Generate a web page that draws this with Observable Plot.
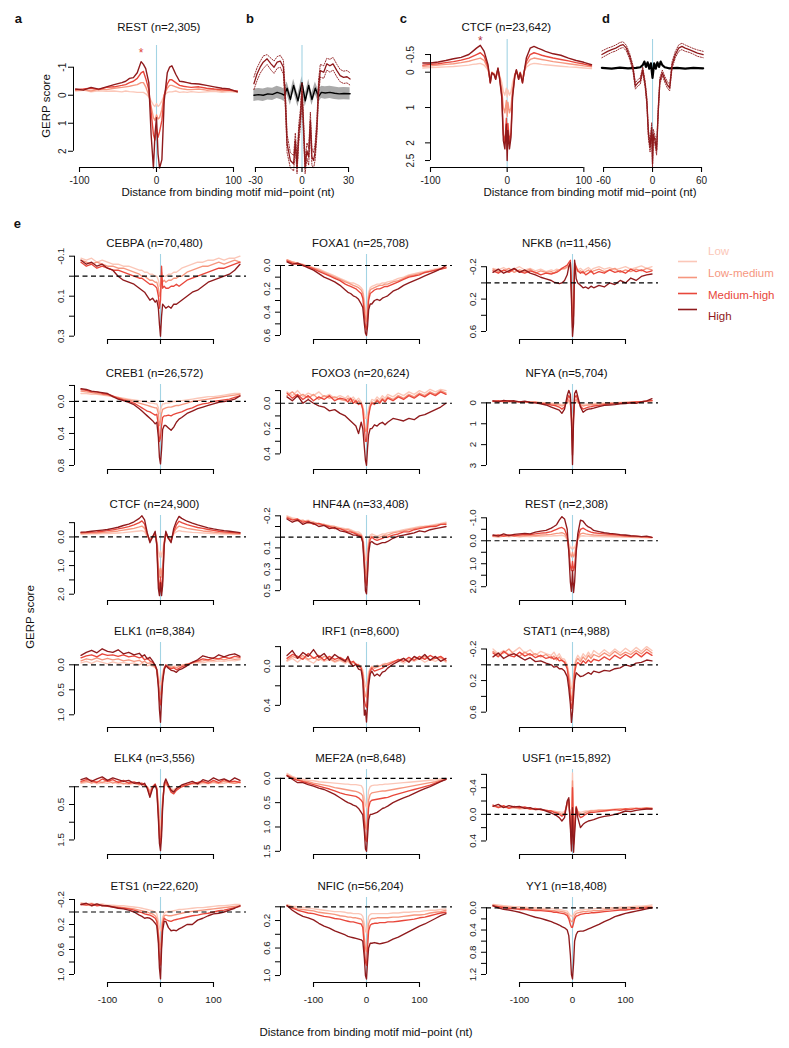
<!DOCTYPE html>
<html><head><meta charset="utf-8">
<script src="https://cdn.jsdelivr.net/npm/d3@7"></script>
<script src="https://cdn.jsdelivr.net/npm/@observablehq/plot@0.6"></script>
<style>
body{margin:0;background:#fff;}
#root{position:relative;width:789px;height:1048px;overflow:hidden;font-family:"Liberation Sans",Arial,Helvetica,sans-serif;color:#111;}
.abs{position:absolute;white-space:nowrap;line-height:1;}
</style></head>
<body><div id="root"></div>
<script>
// ---------------- DATA ----------------
const LEVELS = ["Low","Low-medium","Medium-high","High"];
const COLORS = ["#fbc7b8","#f6977f","#e8473b","#8f1a1c"];

// panel e: distance grid (nt)
const X_E = [-150,-140,-130,-120,-110,-100,-90,-80,-70,-60,-50, -40,-35,-30,-25,-20,-15,-10,-7, -4,-2,0,2,4, 7,10,15,20,25,30,35,40, 50,60,70,80,90,100,110,120,130,140,150];

const CEBPA_H  = [-0.08,-0.06,-0.07,-0.05,-0.06,-0.04,-0.03,0.0,0.02,0.03,0.04, 0.06,0.07,0.08,0.1,0.12,0.11,0.13,0.12, 0.16,0.24,0.3,0.2,0.14, 0.15,0.16,0.15,0.16,0.14,0.14,0.13,0.12, 0.1,0.08,0.07,0.05,0.03,0.02,0.01,0.0,-0.01,-0.03,-0.06];
const CEBPA_MH = [-0.07,-0.05,-0.06,-0.04,-0.05,-0.04,-0.03,-0.03,-0.02,-0.01,0.0, 0.01,0.01,0.02,0.03,0.04,0.04,0.05,0.06, 0.1,0.16,0.12,-0.05,0.06, 0.05,0.06,0.06,0.05,0.05,0.04,0.05,0.04, 0.02,0.01,0.0,-0.01,-0.02,-0.03,-0.04,-0.04,-0.05,-0.06,-0.07];
const CEBPA_LM = [-0.08,-0.07,-0.06,-0.07,-0.06,-0.05,-0.05,-0.04,-0.04,-0.03,-0.02, -0.01,0.0,0.0,0.01,0.02,0.02,0.03,0.03, 0.06,0.1,0.08,0.0,0.03, 0.02,0.03,0.02,0.02,0.01,0.01,0.0,0.0, -0.02,-0.03,-0.04,-0.05,-0.05,-0.06,-0.07,-0.06,-0.07,-0.08,-0.07];
const CEBPA_L  = [-0.09,-0.08,-0.09,-0.07,-0.08,-0.07,-0.06,-0.06,-0.05,-0.05,-0.04, -0.03,-0.03,-0.02,-0.02,-0.01,-0.01,0.0,0.0, 0.02,0.05,0.04,-0.02,0.0, 0.0,0.0,-0.01,-0.01,-0.02,-0.02,-0.03,-0.04, -0.05,-0.06,-0.07,-0.07,-0.08,-0.08,-0.09,-0.08,-0.09,-0.09,-0.1];

const CREB1_H  = [-0.16,-0.15,-0.13,-0.12,-0.11,-0.1,-0.06,-0.03,-0.01,0.01,0.04, 0.09,0.12,0.15,0.18,0.21,0.24,0.28,0.26, 0.45,0.7,0.78,0.6,0.35, 0.3,0.3,0.33,0.36,0.32,0.26,0.22,0.2, 0.15,0.12,0.09,0.07,0.05,0.03,0.01,0.0,-0.01,-0.03,-0.07];
const CREB1_MH = [-0.15,-0.14,-0.12,-0.12,-0.1,-0.09,-0.07,-0.04,-0.02,0.0,0.02, 0.06,0.08,0.1,0.12,0.13,0.15,0.17,0.16, 0.3,0.5,0.45,0.3,0.2, 0.18,0.18,0.17,0.18,0.16,0.15,0.14,0.13, 0.1,0.08,0.05,0.03,0.02,0.0,-0.01,-0.02,-0.03,-0.05,-0.07];
const CREB1_LM = [-0.13,-0.12,-0.11,-0.1,-0.09,-0.08,-0.06,-0.05,-0.03,-0.02,0.0, 0.02,0.03,0.04,0.05,0.06,0.07,0.08,0.08, 0.15,0.3,0.25,0.15,0.1, 0.09,0.08,0.07,0.07,0.06,0.05,0.05,0.04, 0.02,0.0,-0.01,-0.02,-0.03,-0.04,-0.05,-0.06,-0.07,-0.08,-0.09];
const CREB1_L  = [-0.1,-0.1,-0.09,-0.09,-0.08,-0.07,-0.06,-0.05,-0.04,-0.03,-0.02, -0.01,0.0,0.0,0.01,0.02,0.02,0.03,0.03, 0.08,0.15,0.12,0.06,0.03, 0.03,0.02,0.02,0.01,0.0,0.0,-0.01,-0.01, -0.02,-0.03,-0.04,-0.05,-0.06,-0.06,-0.07,-0.08,-0.09,-0.1,-0.1];

const CTCF_H  = [-0.17,-0.18,-0.2,-0.22,-0.24,-0.26,-0.3,-0.34,-0.4,-0.45,-0.53, -0.65,-0.74,-0.6,-0.15,0.2,0.0,-0.2,0.3, 1.8,2.05,1.6,2.05,1.7, 0.3,-0.2,0.05,0.2,-0.3,-0.55,-0.72,-0.65, -0.55,-0.48,-0.42,-0.37,-0.32,-0.28,-0.25,-0.22,-0.2,-0.18,-0.15];
const CTCF_MH = [-0.15,-0.16,-0.17,-0.18,-0.2,-0.22,-0.25,-0.28,-0.32,-0.36,-0.42, -0.5,-0.56,-0.45,-0.1,0.15,0.0,-0.15,0.25, 1.5,1.9,1.4,1.9,1.5, 0.25,-0.15,0.05,0.15,-0.2,-0.42,-0.55,-0.5, -0.43,-0.38,-0.33,-0.3,-0.26,-0.23,-0.2,-0.18,-0.16,-0.15,-0.13];
const CTCF_LM = [-0.12,-0.13,-0.14,-0.14,-0.16,-0.17,-0.19,-0.21,-0.24,-0.27,-0.3, -0.35,-0.38,-0.3,-0.05,0.1,0.0,-0.1,0.2, 1.0,1.4,1.1,1.4,1.0, 0.2,-0.1,0.05,0.1,-0.15,-0.3,-0.38,-0.35, -0.3,-0.27,-0.24,-0.21,-0.19,-0.17,-0.15,-0.14,-0.13,-0.12,-0.11];
const CTCF_L  = [-0.1,-0.1,-0.11,-0.11,-0.12,-0.12,-0.13,-0.14,-0.15,-0.17,-0.19, -0.21,-0.22,-0.18,0.0,0.05,0.0,-0.05,0.1, 0.5,0.7,0.5,0.7,0.5, 0.1,-0.05,0.0,0.05,-0.1,-0.18,-0.22,-0.2, -0.18,-0.16,-0.15,-0.14,-0.13,-0.12,-0.11,-0.1,-0.1,-0.09,-0.09];

const ELK1_H  = [-0.19,-0.25,-0.29,-0.24,-0.32,-0.27,-0.25,-0.3,-0.22,-0.25,-0.2, -0.23,-0.17,-0.2,-0.12,-0.15,-0.08,0.01,0.1, 0.45,0.9,1.15,0.7,0.35, 0.1,0.02,0.07,0.11,0.12,0.15,0.1,0.08, 0.02,-0.05,-0.1,-0.18,-0.15,-0.13,-0.2,-0.16,-0.2,-0.22,-0.17];
const ELK1_MH = [-0.14,-0.18,-0.2,-0.16,-0.22,-0.19,-0.2,-0.17,-0.2,-0.16,-0.18, -0.14,-0.16,-0.1,-0.13,-0.08,-0.05,0.02,0.1, 0.4,0.7,0.8,0.55,0.3, 0.08,0.0,0.05,0.08,0.06,0.1,0.07,0.04, 0.0,-0.05,-0.08,-0.12,-0.1,-0.14,-0.12,-0.16,-0.13,-0.17,-0.15];
const ELK1_LM = [-0.08,-0.12,-0.1,-0.14,-0.1,-0.13,-0.1,-0.12,-0.08,-0.1,-0.07, -0.09,-0.05,-0.07,-0.03,-0.04,0.0,0.05,0.1, 0.3,0.55,0.6,0.45,0.25, 0.07,0.02,0.03,0.05,0.04,0.06,0.03,0.01, -0.02,-0.04,-0.07,-0.08,-0.1,-0.09,-0.12,-0.1,-0.13,-0.11,-0.12];
const ELK1_L  = [-0.04,-0.07,-0.03,-0.08,-0.05,-0.02,-0.06,-0.03,-0.05,-0.02,-0.04, 0.0,-0.03,0.0,0.02,0.0,0.03,0.05,0.08, 0.2,0.35,0.4,0.3,0.15, 0.05,0.03,0.02,0.04,0.03,0.02,0.0,0.01, -0.02,-0.03,-0.05,-0.04,-0.07,-0.06,-0.08,-0.07,-0.09,-0.08,-0.1];

const ELK4_H  = [-0.2,-0.25,-0.15,-0.22,-0.28,-0.18,-0.25,-0.2,-0.15,-0.18,-0.1, -0.12,-0.05,-0.1,0.05,0.3,0.05,-0.05,0.1, 0.9,1.6,1.8,1.4,0.6, -0.1,-0.22,-0.05,0.1,0.15,0.05,0.0,-0.05, -0.1,-0.15,-0.08,-0.2,-0.15,-0.25,-0.18,-0.22,-0.15,-0.25,-0.18];
const ELK4_MH = [-0.15,-0.2,-0.18,-0.12,-0.22,-0.15,-0.2,-0.12,-0.18,-0.1,-0.14, -0.08,-0.1,-0.05,0.02,0.25,0.0,-0.08,0.05, 0.8,1.45,1.6,1.2,0.5, -0.05,-0.15,0.0,0.15,0.2,0.1,0.05,0.0, -0.05,-0.1,-0.12,-0.15,-0.1,-0.18,-0.12,-0.2,-0.14,-0.16,-0.12];
const ELK4_LM = [-0.12,-0.16,-0.1,-0.15,-0.12,-0.18,-0.1,-0.15,-0.08,-0.12,-0.1, -0.06,-0.1,-0.04,0.0,0.15,0.0,-0.05,0.05, 0.6,1.2,1.4,1.0,0.4, -0.03,-0.1,0.0,0.08,0.12,0.05,0.02,-0.02, -0.06,-0.1,-0.08,-0.13,-0.1,-0.14,-0.1,-0.15,-0.12,-0.1,-0.14];
const ELK4_L  = [-0.1,-0.12,-0.15,-0.08,-0.12,-0.1,-0.14,-0.08,-0.1,-0.06,-0.1, -0.05,-0.08,-0.03,0.0,0.1,0.0,-0.03,0.03, 0.4,0.9,1.1,0.8,0.3, 0.0,-0.05,0.0,0.05,0.08,0.03,0.0,-0.02, -0.05,-0.08,-0.06,-0.1,-0.08,-0.12,-0.09,-0.1,-0.13,-0.1,-0.12];

const ETS1_H  = [-0.12,-0.14,-0.1,-0.13,-0.1,-0.1,-0.08,-0.06,-0.05,-0.03,0.0, 0.05,0.07,0.1,0.09,0.1,0.13,0.18,0.22, 0.5,0.9,1.07,0.6,0.3, 0.15,0.15,0.25,0.3,0.29,0.3,0.27,0.25, 0.2,0.2,0.13,0.1,0.06,0.03,0.02,0.0,-0.03,-0.06,-0.1];
const ETS1_MH = [-0.12,-0.11,-0.13,-0.1,-0.11,-0.09,-0.08,-0.07,-0.06,-0.05,-0.03, 0.0,0.01,0.03,0.04,0.05,0.07,0.1,0.15, 0.4,0.75,0.85,0.5,0.2, 0.1,0.12,0.14,0.15,0.13,0.12,0.11,0.1, 0.08,0.06,0.05,0.03,0.02,0.0,-0.02,-0.03,-0.05,-0.07,-0.09];
const ETS1_LM = [-0.13,-0.12,-0.1,-0.12,-0.1,-0.1,-0.09,-0.08,-0.07,-0.06,-0.05, -0.03,-0.02,-0.01,0.0,0.02,0.03,0.06,0.1, 0.3,0.5,0.6,0.35,0.15, 0.06,0.05,0.06,0.06,0.05,0.04,0.03,0.02, 0.0,-0.01,-0.02,-0.03,-0.04,-0.05,-0.06,-0.07,-0.08,-0.09,-0.1];
const ETS1_L  = [-0.15,-0.13,-0.14,-0.12,-0.13,-0.11,-0.11,-0.1,-0.1,-0.09,-0.08, -0.07,-0.06,-0.05,-0.04,-0.03,-0.02,0.0,0.03, 0.15,0.25,0.3,0.2,0.08, 0.02,0.0,-0.01,-0.01,-0.02,-0.03,-0.04,-0.04, -0.05,-0.06,-0.07,-0.07,-0.08,-0.09,-0.1,-0.1,-0.11,-0.12,-0.12];

const FOXA1_H  = [-0.03,-0.01,-0.02,0.0,0.02,0.04,0.07,0.1,0.12,0.14,0.17, 0.21,0.23,0.24,0.26,0.27,0.29,0.33,0.36, 0.5,0.58,0.6,0.52,0.38, 0.33,0.33,0.3,0.29,0.3,0.28,0.27,0.26, 0.22,0.2,0.17,0.15,0.13,0.11,0.09,0.07,0.05,0.03,0.0];
const FOXA1_MH = [-0.04,-0.02,-0.01,0.0,0.01,0.03,0.05,0.07,0.09,0.11,0.13, 0.16,0.17,0.18,0.19,0.2,0.22,0.24,0.28, 0.42,0.52,0.55,0.45,0.3, 0.24,0.23,0.21,0.2,0.2,0.19,0.18,0.18, 0.16,0.14,0.12,0.1,0.09,0.08,0.06,0.05,0.04,0.03,0.02];
const FOXA1_LM = [-0.05,-0.03,-0.02,-0.01,0.01,0.02,0.04,0.06,0.08,0.1,0.12, 0.14,0.15,0.16,0.17,0.18,0.19,0.21,0.24, 0.35,0.45,0.48,0.38,0.26, 0.21,0.2,0.19,0.18,0.17,0.17,0.16,0.16, 0.14,0.13,0.11,0.09,0.08,0.07,0.06,0.05,0.04,0.03,0.02];
const FOXA1_L  = [-0.04,-0.03,-0.02,0.0,0.0,0.02,0.03,0.05,0.07,0.09,0.11, 0.13,0.14,0.15,0.15,0.16,0.17,0.19,0.21, 0.3,0.4,0.42,0.33,0.23, 0.19,0.18,0.17,0.16,0.16,0.15,0.15,0.14, 0.13,0.11,0.1,0.08,0.07,0.06,0.05,0.04,0.03,0.02,0.01];

const FOXO3_H  = [-0.05,-0.02,-0.06,0.0,-0.03,0.0,0.02,0.03,0.06,0.05,0.08, 0.1,0.12,0.14,0.16,0.18,0.24,0.15,0.2, 0.35,0.45,0.49,0.35,0.25, 0.2,0.2,0.17,0.18,0.16,0.15,0.17,0.15, 0.12,0.13,0.14,0.12,0.13,0.1,0.09,0.07,0.05,0.03,0.0];
const FOXO3_MH = [-0.08,-0.04,-0.07,-0.03,-0.06,-0.02,-0.05,-0.03,-0.06,-0.02,-0.04, -0.03,-0.01,-0.04,0.0,-0.02,0.01,0.0,0.05, 0.2,0.3,0.3,0.2,0.1, 0.03,0.0,0.01,-0.02,0.0,-0.03,-0.01,-0.04, -0.02,-0.05,-0.03,-0.06,-0.04,-0.07,-0.05,-0.08,-0.06,-0.09,-0.07];
const FOXO3_LM = [-0.06,-0.09,-0.05,-0.07,-0.04,-0.07,-0.03,-0.06,-0.04,-0.05,-0.03, -0.02,-0.04,-0.01,-0.03,0.0,-0.02,0.01,0.04, 0.15,0.22,0.22,0.15,0.08, 0.02,-0.01,0.0,-0.03,-0.01,-0.04,-0.02,-0.05, -0.03,-0.06,-0.04,-0.07,-0.05,-0.08,-0.06,-0.09,-0.07,-0.1,-0.08];
const FOXO3_L  = [-0.09,-0.06,-0.1,-0.05,-0.08,-0.06,-0.09,-0.05,-0.07,-0.04,-0.06, -0.04,-0.06,-0.03,-0.05,-0.02,-0.04,-0.01,0.02, 0.08,0.12,0.12,0.08,0.04, 0.0,-0.03,-0.02,-0.05,-0.03,-0.06,-0.04,-0.07, -0.05,-0.08,-0.06,-0.09,-0.07,-0.1,-0.08,-0.11,-0.09,-0.11,-0.1];

const HNF4A_H  = [-0.17,-0.14,-0.16,-0.12,-0.14,-0.13,-0.1,-0.11,-0.08,-0.09,-0.06, -0.05,-0.04,-0.03,-0.02,-0.02,-0.01,0.0,0.05, 0.3,0.5,0.53,0.35,0.15, 0.05,0.04,0.06,0.07,0.06,0.05,0.05,0.04, 0.01,-0.01,-0.02,-0.03,-0.04,-0.06,-0.05,-0.07,-0.08,-0.09,-0.1];
const HNF4A_MH = [-0.18,-0.16,-0.17,-0.14,-0.15,-0.12,-0.13,-0.11,-0.1,-0.08,-0.08, -0.06,-0.05,-0.05,-0.04,-0.03,-0.02,-0.01,0.04, 0.25,0.42,0.45,0.3,0.1, 0.02,0.0,0.02,0.03,0.02,0.01,0.0,0.0, -0.02,-0.03,-0.05,-0.05,-0.07,-0.08,-0.09,-0.1,-0.1,-0.12,-0.12];
const HNF4A_LM = [-0.19,-0.17,-0.15,-0.16,-0.13,-0.14,-0.12,-0.12,-0.1,-0.1,-0.08, -0.07,-0.07,-0.06,-0.05,-0.04,-0.03,-0.02,0.02, 0.18,0.32,0.35,0.22,0.07, 0.0,-0.01,0.0,0.01,0.0,-0.01,-0.02,-0.02, -0.04,-0.05,-0.06,-0.07,-0.08,-0.09,-0.1,-0.1,-0.11,-0.12,-0.13];
const HNF4A_L  = [-0.2,-0.18,-0.17,-0.15,-0.16,-0.14,-0.13,-0.12,-0.11,-0.1,-0.09, -0.08,-0.08,-0.07,-0.06,-0.05,-0.05,-0.03,0.0, 0.1,0.2,0.22,0.12,0.03, -0.02,-0.03,-0.02,-0.01,-0.02,-0.03,-0.03,-0.04, -0.05,-0.06,-0.07,-0.08,-0.09,-0.1,-0.1,-0.11,-0.12,-0.13,-0.14];

const IRF1_H  = [-0.11,-0.16,-0.08,-0.14,-0.1,-0.17,-0.09,-0.13,-0.06,-0.12,-0.08, -0.05,-0.1,-0.03,0.0,-0.02,0.03,0.04,0.15, 0.5,0.45,0.57,0.4,0.2, 0.08,0.05,0.1,0.08,0.1,0.06,0.05,0.02, -0.02,-0.05,-0.08,-0.04,-0.1,-0.07,-0.12,-0.06,-0.1,-0.05,-0.08];
const IRF1_MH = [-0.08,-0.12,-0.1,-0.07,-0.13,-0.08,-0.11,-0.06,-0.1,-0.07,-0.09, -0.06,-0.08,-0.04,-0.05,-0.02,-0.01,0.02,0.1, 0.35,0.4,0.42,0.3,0.15, 0.05,0.02,0.05,0.04,0.03,0.02,0.0,-0.01, -0.04,-0.07,-0.05,-0.09,-0.06,-0.1,-0.07,-0.11,-0.08,-0.1,-0.06];
const IRF1_LM = [-0.06,-0.1,-0.08,-0.11,-0.07,-0.09,-0.06,-0.1,-0.08,-0.05,-0.07, -0.04,-0.06,-0.03,-0.04,-0.02,0.0,0.02,0.07, 0.25,0.3,0.32,0.22,0.1, 0.03,0.01,0.02,0.01,0.0,-0.01,-0.02,-0.03, -0.05,-0.06,-0.08,-0.05,-0.09,-0.07,-0.1,-0.06,-0.08,-0.09,-0.05];
const IRF1_L  = [-0.05,-0.08,-0.04,-0.09,-0.06,-0.03,-0.08,-0.05,-0.07,-0.04,-0.06, -0.03,-0.05,-0.02,-0.04,-0.01,-0.02,0.0,0.04, 0.15,0.2,0.22,0.15,0.06, 0.02,0.0,0.01,-0.01,0.0,-0.02,-0.03,-0.02, -0.04,-0.06,-0.03,-0.07,-0.05,-0.08,-0.04,-0.07,-0.05,-0.08,-0.04];

const MEF2A_H  = [-0.05,0.02,0.09,0.09,0.13,0.16,0.2,0.23,0.28,0.33,0.4, 0.47,0.5,0.52,0.55,0.57,0.62,0.7,0.75, 1.1,1.45,1.5,1.2,0.85, 0.74,0.74,0.72,0.7,0.66,0.62,0.6,0.57, 0.5,0.45,0.4,0.36,0.31,0.26,0.21,0.17,0.12,0.07,0.02];
const MEF2A_MH = [-0.06,0.0,0.04,0.07,0.1,0.13,0.16,0.19,0.22,0.26,0.3, 0.33,0.34,0.35,0.36,0.37,0.4,0.45,0.5, 0.9,1.25,1.3,1.0,0.6, 0.48,0.45,0.44,0.43,0.42,0.41,0.4,0.39, 0.35,0.32,0.29,0.26,0.23,0.2,0.17,0.14,0.1,0.06,0.02];
const MEF2A_LM = [-0.07,-0.02,0.02,0.05,0.07,0.1,0.12,0.14,0.16,0.19,0.21, 0.23,0.24,0.25,0.26,0.27,0.29,0.32,0.36, 0.7,1.0,1.05,0.8,0.45, 0.33,0.3,0.29,0.28,0.27,0.26,0.26,0.25, 0.23,0.21,0.19,0.17,0.15,0.13,0.11,0.09,0.07,0.04,0.01];
const MEF2A_L  = [-0.1,-0.04,0.0,0.02,0.04,0.05,0.07,0.08,0.09,0.1,0.11, 0.12,0.12,0.13,0.13,0.13,0.14,0.15,0.2, 0.4,0.55,0.6,0.45,0.25, 0.17,0.15,0.14,0.14,0.13,0.13,0.12,0.12, 0.11,0.1,0.09,0.08,0.07,0.06,0.05,0.04,0.03,0.01,0.0];

const NFIC_H  = [-0.02,0.05,0.1,0.14,0.16,0.19,0.24,0.28,0.31,0.35,0.38, 0.41,0.43,0.44,0.45,0.46,0.47,0.48,0.5, 0.75,1.0,1.05,0.8,0.6, 0.53,0.53,0.52,0.53,0.54,0.53,0.52,0.51, 0.47,0.44,0.4,0.36,0.32,0.28,0.25,0.21,0.17,0.13,0.1];
const NFIC_MH = [-0.01,0.02,0.05,0.07,0.09,0.1,0.12,0.14,0.15,0.17,0.18, 0.2,0.21,0.22,0.22,0.23,0.24,0.25,0.3, 0.6,0.8,0.85,0.6,0.35, 0.27,0.25,0.24,0.24,0.23,0.23,0.23,0.22, 0.22,0.21,0.2,0.19,0.18,0.16,0.15,0.13,0.11,0.09,0.08];
const NFIC_LM = [-0.02,0.01,0.03,0.04,0.05,0.06,0.08,0.09,0.1,0.11,0.13, 0.14,0.15,0.15,0.16,0.16,0.17,0.18,0.22, 0.45,0.6,0.65,0.45,0.25, 0.19,0.17,0.17,0.16,0.16,0.16,0.16,0.16, 0.15,0.15,0.14,0.13,0.12,0.12,0.11,0.09,0.08,0.07,0.05];
const NFIC_L  = [-0.03,-0.01,0.0,0.01,0.02,0.03,0.04,0.05,0.06,0.07,0.07, 0.08,0.09,0.09,0.1,0.1,0.1,0.11,0.14, 0.25,0.35,0.38,0.25,0.14, 0.11,0.1,0.1,0.1,0.1,0.1,0.1,0.1, 0.09,0.09,0.08,0.08,0.07,0.07,0.06,0.05,0.05,0.04,0.03];

const NFKB_H  = [-0.13,-0.17,-0.12,-0.15,-0.18,-0.13,-0.16,-0.12,-0.1,-0.07,-0.05, -0.03,-0.01,0.0,0.01,0.0,-0.03,-0.1,-0.2, -0.25,0.2,0.66,0.5,-0.28, -0.05,0.0,0.03,0.06,0.05,0.07,0.04,0.06, 0.03,0.05,0.0,0.02,-0.03,0.0,-0.06,-0.03,-0.08,-0.1,-0.11];
const NFKB_MH = [-0.15,-0.12,-0.16,-0.13,-0.17,-0.14,-0.12,-0.15,-0.13,-0.1,-0.12, -0.11,-0.12,-0.13,-0.15,-0.18,-0.2,-0.22,-0.25, -0.28,0.1,0.55,0.4,-0.25, -0.2,-0.15,-0.12,-0.14,-0.1,-0.12,-0.15,-0.11, -0.14,-0.12,-0.16,-0.13,-0.15,-0.12,-0.17,-0.14,-0.16,-0.13,-0.15];
const NFKB_LM = [-0.17,-0.14,-0.15,-0.18,-0.13,-0.16,-0.14,-0.17,-0.12,-0.15,-0.13, -0.14,-0.12,-0.15,-0.16,-0.17,-0.18,-0.2,-0.22, -0.24,0.05,0.42,0.3,-0.22, -0.18,-0.14,-0.15,-0.12,-0.14,-0.16,-0.13,-0.15, -0.17,-0.14,-0.16,-0.18,-0.13,-0.16,-0.14,-0.17,-0.15,-0.18,-0.16];
const NFKB_L  = [-0.18,-0.16,-0.19,-0.15,-0.17,-0.2,-0.16,-0.18,-0.15,-0.17,-0.14, -0.16,-0.15,-0.17,-0.16,-0.18,-0.17,-0.19,-0.2, -0.22,0.0,0.3,0.2,-0.2, -0.17,-0.16,-0.18,-0.15,-0.17,-0.19,-0.16,-0.18, -0.2,-0.17,-0.19,-0.16,-0.18,-0.2,-0.17,-0.19,-0.21,-0.18,-0.2];

const NFYA_H  = [-0.1,-0.05,-0.12,-0.08,-0.1,-0.05,-0.08,-0.02,0.0,0.05,0.1, 0.2,0.25,0.3,0.35,0.5,0.3,-0.35,-0.6, -0.4,0.8,2.95,0.8,-0.45, -0.6,-0.3,0.2,0.45,0.35,0.3,0.28,0.25, 0.18,0.12,0.1,0.08,0.05,0.03,0.0,0.02,-0.05,-0.1,-0.2];
const NFYA_MH = [-0.08,-0.1,-0.06,-0.1,-0.07,-0.05,-0.06,-0.03,-0.02,0.02,0.05, 0.1,0.12,0.15,0.2,0.3,0.2,-0.15,-0.35, -0.2,0.8,2.5,0.7,-0.25, -0.35,-0.15,0.15,0.3,0.25,0.2,0.18,0.15, 0.12,0.08,0.05,0.04,0.02,0.0,-0.02,-0.04,-0.06,-0.08,-0.12];
const NFYA_LM = [-0.08,-0.06,-0.09,-0.05,-0.07,-0.06,-0.04,-0.05,-0.03,0.0,0.02, 0.05,0.06,0.08,0.1,0.15,0.1,-0.05,-0.15, 0.0,0.7,1.8,0.6,-0.1, -0.15,-0.05,0.08,0.15,0.12,0.1,0.09,0.08, 0.06,0.04,0.02,0.01,0.0,-0.02,-0.03,-0.05,-0.06,-0.08,-0.1];
const NFYA_L  = [-0.06,-0.08,-0.05,-0.07,-0.04,-0.06,-0.05,-0.03,-0.04,-0.02,0.0, 0.02,0.03,0.04,0.05,0.08,0.05,0.0,-0.05, 0.1,0.5,1.0,0.4,0.0, -0.05,0.0,0.04,0.07,0.06,0.05,0.04,0.03, 0.02,0.01,0.0,-0.01,-0.02,-0.03,-0.04,-0.05,-0.06,-0.07,-0.08];

const REST_H  = [-0.25,-0.2,-0.3,-0.22,-0.28,-0.3,-0.32,-0.3,-0.38,-0.42,-0.45, -0.55,-0.62,-0.7,-0.9,-1.05,-0.95,-0.5,0.5, 1.8,2.2,1.3,2.25,1.8, 0.5,-0.3,-0.9,-0.85,-0.7,-0.6,-0.55,-0.45, -0.4,-0.35,-0.32,-0.3,-0.27,-0.25,-0.22,-0.2,-0.18,-0.2,-0.15];
const REST_MH = [-0.22,-0.25,-0.2,-0.26,-0.22,-0.25,-0.28,-0.27,-0.3,-0.33,-0.35, -0.4,-0.45,-0.5,-0.55,-0.58,-0.5,-0.2,0.4, 1.1,1.3,0.9,1.3,1.1, 0.35,-0.15,-0.5,-0.55,-0.48,-0.42,-0.38,-0.35, -0.32,-0.3,-0.28,-0.26,-0.24,-0.22,-0.2,-0.2,-0.18,-0.17,-0.15];
const REST_LM = [-0.2,-0.18,-0.22,-0.2,-0.23,-0.2,-0.22,-0.24,-0.22,-0.25,-0.26, -0.28,-0.3,-0.32,-0.33,-0.35,-0.3,-0.1,0.25, 0.6,0.7,0.5,0.7,0.6, 0.2,-0.08,-0.3,-0.33,-0.3,-0.28,-0.26,-0.25, -0.24,-0.23,-0.22,-0.2,-0.2,-0.19,-0.18,-0.17,-0.16,-0.15,-0.14];
const REST_L  = [-0.18,-0.15,-0.2,-0.17,-0.2,-0.16,-0.19,-0.17,-0.2,-0.18,-0.2, -0.2,-0.22,-0.22,-0.23,-0.24,-0.2,-0.05,0.12, 0.3,0.35,0.25,0.35,0.3, 0.1,-0.05,-0.2,-0.22,-0.2,-0.2,-0.19,-0.18, -0.18,-0.17,-0.17,-0.16,-0.16,-0.15,-0.15,-0.14,-0.14,-0.13,-0.13];

const STAT1_H  = [-0.1,-0.15,-0.08,-0.12,-0.14,-0.1,-0.06,-0.09,-0.04,-0.05,-0.02, 0.0,0.03,0.02,0.05,0.05,0.08,0.15,0.3, 0.5,0.73,0.6,0.4,0.2, 0.1,0.12,0.15,0.14,0.12,0.1,0.12,0.08, 0.1,0.07,0.08,0.05,0.04,0.0,0.02,-0.02,-0.03,-0.06,-0.05];
const STAT1_MH = [-0.15,-0.1,-0.17,-0.12,-0.1,-0.16,-0.11,-0.14,-0.09,-0.12,-0.08, -0.1,-0.07,-0.09,-0.05,-0.06,-0.03,0.05,0.2, 0.4,0.55,0.5,0.3,0.1, 0.0,-0.03,0.0,-0.05,-0.02,-0.06,-0.03,-0.07, -0.05,-0.1,-0.06,-0.12,-0.08,-0.13,-0.09,-0.15,-0.1,-0.16,-0.12];
const STAT1_LM = [-0.17,-0.12,-0.15,-0.2,-0.13,-0.11,-0.16,-0.12,-0.14,-0.1,-0.13, -0.08,-0.11,-0.06,-0.1,-0.05,-0.04,0.02,0.15, 0.3,0.45,0.4,0.25,0.05, -0.05,-0.08,-0.04,-0.1,-0.06,-0.12,-0.08,-0.13, -0.1,-0.15,-0.11,-0.17,-0.12,-0.16,-0.13,-0.18,-0.14,-0.2,-0.15];
const STAT1_L  = [-0.2,-0.14,-0.18,-0.13,-0.17,-0.22,-0.15,-0.19,-0.12,-0.17,-0.14, -0.12,-0.16,-0.1,-0.14,-0.08,-0.07,0.0,0.1, 0.2,0.3,0.28,0.15,0.0, -0.08,-0.12,-0.07,-0.14,-0.1,-0.16,-0.11,-0.18, -0.13,-0.19,-0.14,-0.2,-0.15,-0.21,-0.16,-0.22,-0.17,-0.23,-0.18];

const USF1_H  = [-0.12,-0.15,-0.1,-0.13,-0.11,-0.12,-0.09,-0.1,-0.07,-0.08,-0.05, -0.02,0.0,0.02,0.05,0.1,0.05,-0.2,-0.25, 0.2,0.55,-0.1,0.57,0.3, -0.1,0.05,0.2,0.15,0.12,0.1,0.09,0.08, 0.05,0.03,0.02,0.0,-0.02,-0.05,-0.04,-0.06,-0.07,-0.08,-0.08];
const USF1_MH = [-0.14,-0.1,-0.13,-0.09,-0.12,-0.1,-0.11,-0.08,-0.09,-0.07,-0.06, -0.05,-0.03,-0.02,0.0,0.03,0.0,-0.18,-0.22, 0.15,0.45,-0.4,0.45,0.2, -0.12,-0.02,0.05,0.03,0.0,-0.02,-0.03,-0.03, -0.04,-0.05,-0.06,-0.07,-0.06,-0.08,-0.07,-0.09,-0.08,-0.09,-0.08];
const USF1_LM = [-0.13,-0.11,-0.12,-0.1,-0.1,-0.09,-0.1,-0.08,-0.08,-0.07,-0.06, -0.05,-0.04,-0.03,-0.02,0.0,-0.02,-0.15,-0.18, 0.1,0.35,-0.5,0.35,0.12, -0.1,-0.04,0.0,-0.01,-0.03,-0.04,-0.05,-0.05, -0.06,-0.06,-0.07,-0.07,-0.08,-0.08,-0.09,-0.09,-0.09,-0.1,-0.09];
const USF1_L  = [-0.12,-0.1,-0.11,-0.09,-0.1,-0.08,-0.09,-0.08,-0.07,-0.07,-0.06, -0.05,-0.05,-0.04,-0.04,-0.03,-0.04,-0.12,-0.15, 0.05,0.2,-0.62,0.2,0.05, -0.08,-0.05,-0.03,-0.04,-0.05,-0.05,-0.06,-0.06, -0.07,-0.07,-0.07,-0.08,-0.08,-0.08,-0.09,-0.09,-0.09,-0.1,-0.1];

const YY1_H  = [-0.04,0.0,0.03,0.04,0.06,0.08,0.11,0.14,0.17,0.19,0.22, 0.25,0.27,0.29,0.31,0.34,0.36,0.4,0.5, 0.85,1.2,1.28,1.0,0.6, 0.48,0.43,0.42,0.42,0.4,0.38,0.36,0.34, 0.3,0.25,0.21,0.16,0.13,0.1,0.08,0.06,0.04,0.02,0.0];
const YY1_MH = [-0.03,-0.02,0.0,0.01,0.02,0.03,0.03,0.04,0.05,0.05,0.06, 0.07,0.08,0.08,0.09,0.1,0.11,0.14,0.2, 0.3,0.35,0.35,0.28,0.2, 0.15,0.14,0.12,0.11,0.1,0.1,0.09,0.09, 0.08,0.07,0.06,0.05,0.04,0.04,0.03,0.02,0.01,0.0,0.0];
const YY1_LM = [-0.05,-0.03,-0.02,-0.01,0.0,0.01,0.01,0.02,0.03,0.03,0.04, 0.05,0.05,0.06,0.06,0.07,0.08,0.1,0.15, 0.22,0.25,0.25,0.2,0.14, 0.1,0.09,0.08,0.07,0.07,0.06,0.06,0.05, 0.05,0.04,0.03,0.02,0.02,0.01,0.0,0.0,-0.01,-0.02,-0.02];
const YY1_L  = [-0.06,-0.05,-0.04,-0.03,-0.02,-0.02,-0.01,0.0,0.0,0.01,0.01, 0.02,0.02,0.03,0.03,0.04,0.05,0.06,0.1, 0.14,0.15,0.15,0.12,0.08, 0.06,0.05,0.04,0.04,0.03,0.03,0.02,0.02, 0.01,0.01,0.0,0.0,-0.01,-0.01,-0.02,-0.03,-0.03,-0.04,-0.05];

// panel a: REST (n=2,305)
const X_A = [-105,-95,-85,-75,-65,-55,-45, -40,-35,-30,-25,-20,-17,-14,-10,-7,-4,-2, 0, 2,4,7,10,14,17,20,25,30,35,40,45, 55,65,75,85,95,105];
const A_H  = [-0.22,-0.18,-0.28,-0.22,-0.3,-0.38,-0.45, -0.5,-0.6,-0.63,-0.8,-1.2,-1.1,-0.95,-0.45,1.4,2.6,1.4, 0.8, 2.1,2.6,2.3,0.2,-0.8,-1.0,-1.05,-0.75,-0.5,-0.48,-0.45,-0.42, -0.4,-0.35,-0.3,-0.25,-0.22,-0.12];
const A_MH = [-0.2,-0.22,-0.25,-0.2,-0.28,-0.3,-0.35, -0.38,-0.45,-0.5,-0.6,-0.8,-0.85,-0.6,-0.2,0.6,1.4,1.6, 1.2, 1.5,1.3,0.9,0.0,-0.4,-0.55,-0.55,-0.45,-0.35,-0.32,-0.3,-0.28, -0.3,-0.25,-0.22,-0.2,-0.18,-0.15];
const A_LM = [-0.18,-0.2,-0.15,-0.22,-0.2,-0.25,-0.28, -0.3,-0.32,-0.35,-0.38,-0.45,-0.45,-0.3,0.0,0.4,0.8,0.9, 0.7, 0.85,0.8,0.5,0.0,-0.25,-0.35,-0.35,-0.3,-0.25,-0.22,-0.2,-0.2, -0.22,-0.18,-0.2,-0.15,-0.18,-0.12];
const A_L  = [-0.15,-0.18,-0.12,-0.16,-0.14,-0.15,-0.12, -0.15,-0.13,-0.12,-0.1,-0.1,-0.1,-0.05,0.05,0.2,0.35,0.4, 0.3, 0.4,0.35,0.2,0.0,-0.1,-0.12,-0.12,-0.15,-0.1,-0.12,-0.1,-0.13, -0.1,-0.12,-0.14,-0.1,-0.13,-0.1];
const A_STAR = [{x: -20, y: -1.5}];

// panel b: REST, high-conservation mean with dotted CI; black: control with grey band
const X_B = [-31,-29,-27,-25,-22.5,-20,-18,-16,-14,-12, -10.7,-9.6,-7.5,-5.4,-4.3,-3.2,-2.1,-1, 0, 1,2,3.2,4.3,5.4,6.4,7.5,8.5,9.6,10.7,11.8, 14,16,18,20,22.5,24.6,26.8,29,31];
const B_MEAN = [-0.41,-0.76,-1.0,-1.18,-1.3,-1.12,-1.0,-1.18,-1.22,-1.0, 0.19,1.74,2.33,2.45,1.62,2.57,1.38,0.79, -0.17, 1.14,2.57,1.98,2.21,0.91,2.21,2.33,2.0,1.14,-0.29,-0.88, -0.82,-1.12,-1.05,-1.12,-0.88,-0.7,-0.64,-0.66,-0.58];
const B_UP   = [-0.65,-0.98,-1.2,-1.4,-1.45,-1.32,-1.22,-1.38,-1.42,-1.25, -0.1,1.4,2.05,2.15,1.35,2.3,1.05,0.5, -0.45, 0.85,2.3,1.7,1.9,0.6,1.9,2.05,1.7,0.85,-0.55,-1.1, -1.05,-1.32,-1.28,-1.35,-1.1,-0.92,-0.86,-0.88,-0.8];
const B_LO   = [-0.2,-0.52,-0.78,-0.95,-1.1,-0.9,-0.78,-0.96,-1.0,-0.75, 0.5,2.05,2.6,2.7,1.9,2.8,1.7,1.1, 0.12, 1.45,2.8,2.25,2.5,1.2,2.5,2.6,2.3,1.45,0.0,-0.65, -0.6,-0.9,-0.82,-0.9,-0.65,-0.48,-0.42,-0.44,-0.36];
const X_BK = [-31,-28,-25,-22,-19,-16,-13, -11.5,-9.6,-7.5,-5.4,-2.6, 0, 2.1,4.3,6.4,8.6,10.7,12.5, 15,18,21,24,27,31];
const BK_MEAN = [0.0,-0.02,0.0,-0.05,-0.03,-0.1,-0.05, 0.0,-0.25,0.15,-0.35,0.2, -0.45, 0.2,-0.35,0.15,-0.25,0.05,-0.1, -0.08,-0.1,-0.07,-0.05,-0.06,-0.05];
const BK_LO  = [-0.22,-0.24,-0.22,-0.27,-0.25,-0.32,-0.27, -0.22,-0.47,-0.07,-0.57,-0.02, -0.67, -0.02,-0.57,-0.07,-0.47,-0.17,-0.32, -0.3,-0.32,-0.29,-0.27,-0.28,-0.27];
const BK_HI  = [0.22,0.2,0.22,0.17,0.19,0.12,0.17, 0.22,-0.03,0.37,-0.13,0.42, -0.23, 0.42,-0.13,0.37,-0.03,0.27,0.12, 0.14,0.12,0.15,0.17,0.16,0.17];

// panel c: CTCF (n=23,642)
const X_C = [-110,-100,-90,-80,-70,-60,-50, -45,-40,-35,-30,-25,-22,-20,-17,-15,-12,-10,-7,-5,-3,-1, 0, 1,3,5,7,10,12,15,17,20,22,25,30,35,40,45, 50,60,70,80,90,100,110];
const C_H  = [-0.26,-0.26,-0.29,-0.33,-0.38,-0.42,-0.5, -0.59,-0.68,-0.76,-0.59,-0.21,0.3,0.02,0.07,0.2,-0.12,0.16,0.72,1.93,2.17,1.47, 2.5, 1.65,2.17,1.84,0.72,0.11,-0.07,0.2,0.02,0.3,0.02,-0.4,-0.68,-0.73,-0.68,-0.64, -0.59,-0.52,-0.48,-0.4,-0.33,-0.28,-0.21];
const C_MH = [-0.2,-0.22,-0.24,-0.27,-0.3,-0.34,-0.4, -0.45,-0.5,-0.55,-0.45,-0.15,0.3,0.02,0.07,0.2,-0.1,0.15,0.65,1.75,2.0,1.3, 2.2, 1.45,2.0,1.7,0.65,0.1,-0.05,0.2,0.02,0.3,0.0,-0.3,-0.5,-0.55,-0.52,-0.48, -0.45,-0.4,-0.36,-0.32,-0.27,-0.23,-0.18];
const C_LM = [-0.17,-0.18,-0.2,-0.22,-0.24,-0.27,-0.31, -0.34,-0.37,-0.4,-0.33,-0.1,0.25,0.0,0.05,0.15,-0.08,0.12,0.5,1.0,1.15,0.8, 1.25, 0.85,1.15,1.0,0.5,0.08,-0.04,0.15,0.0,0.25,0.0,-0.22,-0.36,-0.4,-0.38,-0.36, -0.34,-0.3,-0.27,-0.24,-0.21,-0.18,-0.15];
const C_L  = [-0.12,-0.13,-0.14,-0.15,-0.16,-0.18,-0.2, -0.22,-0.23,-0.25,-0.2,-0.06,0.15,0.0,0.03,0.1,-0.05,0.08,0.3,0.55,0.65,0.45, 0.7, 0.5,0.65,0.55,0.3,0.05,-0.02,0.1,0.0,0.15,0.0,-0.14,-0.22,-0.25,-0.24,-0.22, -0.21,-0.19,-0.17,-0.15,-0.14,-0.12,-0.1];
const C_STAR = [{x: -35, y: -0.87}];

// panel d: CTCF, high-conservation mean with dotted CI; black: control
const X_D = [-62,-55,-50,-45,-40,-36,-32,-28,-24,-21,-18,-15,-12,-9,-7,-5,-3,-1,0,1,3,5,7,9,12,15,18,21,24,28,32,36,40,45,50,55,62];
const D_MEAN = [-0.5,-0.59,-0.64,-0.68,-0.75,-0.78,-0.68,-0.45,-0.12,0.39,0.3,0.25,-0.07,0.35,0.81,1.75,2.12,1.56,2.59,1.75,1.93,2.21,1.09,0.25,0.02,0.2,0.35,0.44,-0.21,-0.5,-0.68,-0.73,-0.68,-0.64,-0.59,-0.54,-0.5];
const D_UP   = [-0.6,-0.68,-0.72,-0.77,-0.84,-0.86,-0.76,-0.53,-0.2,0.3,0.21,0.16,-0.15,0.26,0.7,1.62,1.98,1.43,2.45,1.62,1.8,2.08,0.97,0.16,-0.06,0.12,0.26,0.35,-0.3,-0.59,-0.77,-0.82,-0.77,-0.72,-0.67,-0.63,-0.59];
const D_LO   = [-0.41,-0.5,-0.56,-0.6,-0.67,-0.7,-0.6,-0.37,-0.04,0.48,0.39,0.34,0.01,0.44,0.92,1.88,2.26,1.69,2.73,1.88,2.06,2.34,1.21,0.34,0.1,0.28,0.44,0.53,-0.12,-0.41,-0.59,-0.64,-0.59,-0.56,-0.51,-0.45,-0.41];
const X_DK = [-62,-50,-40,-30,-20,-15,-12,-10,-8,-6,-4,-2,0,2,4,6,8,10,12,15,20,30,40,50,62];
const DK_MEAN = [-0.12,-0.1,-0.13,-0.11,-0.12,-0.14,-0.2,-0.3,-0.15,-0.28,-0.1,-0.25,0.16,-0.25,-0.1,-0.28,-0.15,-0.3,-0.2,-0.14,-0.11,-0.12,-0.1,-0.12,-0.11];

// ---------------- RENDERING ----------------
const root = document.getElementById("root");
const FONT = '"Liberation Sans", Arial, Helvetica, sans-serif';
const BLUE = "#a3d4e4";
const DARK = COLORS[3];
const problems = [];

function addText(txt, x, y, o = {}) {
  const d = document.createElement("div");
  d.className = "abs";
  d.textContent = txt;
  d.style.left = x + "px"; d.style.top = y + "px";
  d.style.fontSize = (o.size || 11.5) + "px";
  d.style.fontWeight = o.weight || "normal";
  d.style.color = o.color || "#111";
  const tx = o.anchor === "start" ? "0" : "-50%";
  d.style.transform = `translate(${tx},-50%)` + (o.rotate ? ` rotate(${o.rotate}deg)` : "");
  root.appendChild(d);
}

const fmt1 = d => d.toFixed(1);
const fmtN = d => String(d);

function panel(o) {
  const mL = 44, mR = 16, mT = 30, mB = 30;
  const fw = o.fr - o.fl, fh = o.fb - o.ft;
  const kx = (o.xdom[1] - o.xdom[0]) / fw;
  const ky = (o.ydom[1] - o.ydom[0]) / fh;
  const marks = [];
  if (o.under) marks.push(...o.under);
  marks.push(Plot.ruleX([0], {x: d => d, stroke: BLUE, strokeWidth: 1.1}));
  for (const s of o.series) {
    if (s.ys.length !== s.xs.length) problems.push(`${o.id}: ${s.ys.length} vs ${s.xs.length}`);
    marks.push(Plot.line(s.xs.map((x, i) => ({x, y: s.ys[i]})), {
      x: "x", y: "y", stroke: s.color, strokeWidth: s.width || 1.3,
      strokeDasharray: s.dash, strokeLinejoin: "round"
    }));
  }
  if (o.over) marks.push(...o.over);
  if (o.dashed) marks.push(Plot.ruleY([0], {y: d => d, stroke: "#000", strokeWidth: 1.2, strokeDasharray: "5,3.5"}));
  if (o.yTicks) {
    const t = o.yTicks, x0 = o.xdom[0];
    marks.push(Plot.ruleX([x0], {x: d => d, y1: () => t[0], y2: () => t[t.length - 1], stroke: "#000", strokeWidth: 1}));
    marks.push(Plot.ruleY(t, {y: d => d, x1: () => x0 - 5 * kx, x2: () => x0, stroke: "#000", strokeWidth: 1}));
    marks.push(Plot.text(o.yLabels, {x: () => x0 - o.yLabOff * kx, y: d => d, text: o.yFmt, rotate: -90,
      fontSize: o.tickFont, fill: "#1a1a1a", textAnchor: "middle", lineAnchor: "middle"}));
  }
  if (o.xTicks) {
    const t = o.xTicks, yb = o.ydom[1];
    marks.push(Plot.ruleY([yb], {y: d => d, x1: () => t[0], x2: () => t[t.length - 1], stroke: "#000", strokeWidth: 1.1}));
    marks.push(Plot.ruleX(t, {x: d => d, y1: () => yb, y2: () => yb + 5 * ky, stroke: "#000", strokeWidth: 1.1}));
    if (o.xLabels) marks.push(Plot.text(t, {x: d => d, y: () => yb + o.xLabOff * ky, text: d => String(d),
      fontSize: o.tickFont, fill: "#1a1a1a", lineAnchor: "middle"}));
  }
  if (o.title) marks.push(Plot.text([o.title], {frameAnchor: "top", dx: o.titleDx, dy: o.titleDy,
    lineAnchor: "middle", fontSize: 11.5, fill: "#111"}));
  const svg = Plot.plot({
    width: fw + mL + mR, height: fh + mT + mB,
    marginLeft: mL, marginRight: mR, marginTop: mT, marginBottom: mB,
    x: {domain: o.xdom, axis: null},
    y: {domain: [o.ydom[1], o.ydom[0]], axis: null},
    style: {fontFamily: FONT, background: "transparent", overflow: "visible"},
    marks
  });
  svg.style.position = "absolute";
  svg.style.left = (o.fl - mL) + "px";
  svg.style.top = (o.ft - mT) + "px";
  svg.style.maxWidth = "none";
  root.appendChild(svg);
}

const four = (xs, arr, w) => arr.map((ys, i) => ({xs, ys, color: COLORS[i], width: w}));

// ---- panel a ----
panel({
  id: "a", fl: 73, fr: 241, ft: 45, fb: 167, xdom: [-107.8, 110.4], ydom: [-1.775, 2.58],
  series: four(X_A, [A_L, A_LM, A_MH, A_H], 1.4),
  over: [Plot.text(A_STAR, {x: "x", y: "y", text: () => "*", fontSize: 12, fill: "#e0453a"})],
  yTicks: [-1, 0, 1, 2], yLabels: [-1, 0, 1, 2], yFmt: fmtN, yLabOff: 11,
  xTicks: [-100, 0, 100], xLabels: true, xLabOff: 13.3, tickFont: 10,
  title: "REST (n=2,305)", titleDx: 1.3, titleDy: -18.3
});
// ---- panel b ----
panel({
  id: "b", fl: 250, fr: 353, ft: 45, fb: 167, xdom: [-33.2, 33.2], ydom: [-1.775, 2.58],
  under: [Plot.areaY(X_BK.map((x, i) => ({x, lo: BK_LO[i], hi: BK_HI[i]})), {x: "x", y1: "lo", y2: "hi", fill: "#aaaaaa"})],
  series: [
    {xs: X_BK, ys: BK_MEAN, color: "#000", width: 1.4},
    {xs: X_B, ys: B_UP, color: DARK, width: 0.9, dash: "1.2,1.4"},
    {xs: X_B, ys: B_LO, color: DARK, width: 0.9, dash: "1.2,1.4"},
    {xs: X_B, ys: B_MEAN, color: DARK, width: 1.3}
  ],
  xTicks: [-30, 0, 30], xLabels: true, xLabOff: 13.3, tickFont: 10
});
// ---- panel c ----
panel({
  id: "c", fl: 430, fr: 590, ft: 39, fb: 167, xdom: [-100, 108.7], ydom: [-0.925, 2.697],
  series: four(X_C, [C_L, C_LM, C_MH, C_H], 1.4),
  over: [Plot.text(C_STAR, {x: "x", y: "y", text: () => "*", fontSize: 12, fill: "#b2333f"})],
  yTicks: [-0.5, 0, 1, 2, 2.5], yLabels: [-0.5, 0, 1, 2, 2.5], yFmt: fmtN, yLabOff: 20,
  xTicks: [-100, 0, 100], xLabels: true, xLabOff: 13.3, tickFont: 10,
  title: "CTCF (n=23,642)", titleDx: -4.2, titleDy: -12.3
});
// ---- panel d ----
panel({
  id: "d", fl: 600, fr: 706, ft: 39, fb: 167, xdom: [-63.7, 66.1], ydom: [-0.925, 2.697],
  series: [
    {xs: X_DK, ys: DK_MEAN, color: "#000", width: 2.2},
    {xs: X_D, ys: D_UP, color: DARK, width: 0.9, dash: "1.2,1.4"},
    {xs: X_D, ys: D_LO, color: DARK, width: 0.9, dash: "1.2,1.4"},
    {xs: X_D, ys: D_MEAN, color: DARK, width: 1.3}
  ],
  xTicks: [-60, 0, 60], xLabels: true, xLabOff: 13.3, tickFont: 10
});

// ---- panel e ----
const E_PANELS = [
  ["CEBPA","70,480",0,0,[CEBPA_L,CEBPA_LM,CEBPA_MH,CEBPA_H],[-0.1085,0.3165],[-0.1,0,0.1,0.2,0.3],[-0.1,0.1,0.3]],
  ["FOXA1","25,708",1,0,[FOXA1_L,FOXA1_LM,FOXA1_MH,FOXA1_H],[-0.094,0.634],[0,0.1,0.2,0.3,0.4,0.5,0.6],[0,0.2,0.4,0.6]],
  ["NFKB","11,456",2,0,[NFKB_L,NFKB_LM,NFKB_MH,NFKB_H],[-0.351,0.699],[-0.2,0,0.2,0.4,0.6],[-0.2,0.2,0.6]],
  ["CREB1","26,572",0,1,[CREB1_L,CREB1_LM,CREB1_MH,CREB1_H],[-0.212,0.85],[-0.2,0,0.2,0.4,0.6,0.8],[0,0.4,0.8]],
  ["FOXO3","20,624",1,1,[FOXO3_L,FOXO3_LM,FOXO3_MH,FOXO3_H],[-0.148,0.523],[-0.1,0,0.1,0.2,0.3,0.4],[0,0.2,0.4]],
  ["NFYA","5,704",2,1,[NFYA_L,NFYA_LM,NFYA_MH,NFYA_H],[-0.88,3.19],[0,1,2,3],[0,1,2,3]],
  ["CTCF","24,900",0,2,[CTCF_L,CTCF_LM,CTCF_MH,CTCF_H],[-0.75,2.22],[-0.5,0,0.5,1,1.5,2],[0,1,2]],
  ["HNF4A","33,408",1,2,[HNF4A_L,HNF4A_LM,HNF4A_MH,HNF4A_H],[-0.203,0.592],[-0.2,-0.1,0,0.1,0.2,0.3,0.4,0.5],[-0.2,0.1,0.3,0.5]],
  ["REST","2,308",2,2,[REST_L,REST_LM,REST_MH,REST_H],[-1.1,2.6],[-1,-0.5,0,0.5,1,1.5,2],[-1,0,1,2]],
  ["ELK1","8,384",0,3,[ELK1_L,ELK1_LM,ELK1_MH,ELK1_H],[-0.446,1.254],[0,0.5,1],[0,0.5,1]],
  ["IRF1","8,600",1,3,[IRF1_L,IRF1_LM,IRF1_MH,IRF1_H],[-0.242,0.626],[-0.2,0,0.2,0.4],[0,0.4]],
  ["STAT1","4,988",2,3,[STAT1_L,STAT1_LM,STAT1_MH,STAT1_H],[-0.282,0.794],[-0.2,0,0.2,0.4,0.6],[-0.2,0.2,0.6]],
  ["ELK4","3,556",0,4,[ELK4_L,ELK4_LM,ELK4_MH,ELK4_H],[-0.487,1.91],[0,0.5,1,1.5],[0.5,1.5]],
  ["MEF2A","8,648",1,4,[MEF2A_L,MEF2A_LM,MEF2A_MH,MEF2A_H],[-0.181,1.565],[0,0.5,1,1.5],[0,0.5,1,1.5]],
  ["USF1","15,892",2,4,[USF1_L,USF1_LM,USF1_MH,USF1_H],[-0.673,0.603],[-0.6,-0.4,-0.2,0,0.2,0.4],[-0.4,0,0.4]],
  ["ETS1","22,620",0,5,[ETS1_L,ETS1_LM,ETS1_MH,ETS1_H],[-0.232,1.128],[-0.2,0,0.2,0.4,0.6,0.8,1],[-0.2,0.2,0.6,1]],
  ["NFIC","56,204",1,5,[NFIC_L,NFIC_LM,NFIC_MH,NFIC_H],[-0.135,1.101],[0,0.2,0.4,0.6,0.8,1],[0.2,0.6,1]],
  ["YY1","18,408",2,5,[YY1_L,YY1_LM,YY1_MH,YY1_H],[-0.185,1.344],[0,0.2,0.4,0.6,0.8,1,1.2],[0,0.4,0.8,1.2]]
];
const COL_X = [160, 366.3, 572];
const ROW_B = [339.3, 469.3, 600, 727, 853.5, 982];
for (const [name, n, c, r, arr, yd, yt, yl] of E_PANELS) {
  const cx = COL_X[c], fb = ROW_B[r];
  panel({
    id: name, fl: cx - 86, fr: cx + 86, ft: fb - 85, fb, xdom: [-162.3, 162.3], ydom: yd,
    series: four(X_E, arr, 1.35), dashed: true,
    yTicks: yt, yLabels: yl, yFmt: name === "NFYA" ? fmtN : fmt1, yLabOff: 13.5,
    xTicks: [-100, 0, 100], xLabels: r === 5, xLabOff: 17, tickFont: 9.8,
    title: `${name} (n=${n})`, titleDx: -6, titleDy: -11.5
  });
}

// ---- text labels ----
addText("a", 18.3, 18.3, {size: 13, weight: "bold"});
addText("b", 250, 18.3, {size: 13, weight: "bold"});
addText("c", 403.3, 18.3, {size: 13, weight: "bold"});
addText("d", 606, 18.3, {size: 13, weight: "bold"});
addText("e", 17.3, 223.3, {size: 13, weight: "bold"});
addText("GERP score", 46.7, 106, {rotate: -90});
addText("Distance from binding motif mid\u2212point (nt)", 228, 193);
addText("Distance from binding motif mid\u2212point (nt)", 590, 193);
addText("GERP score", 31, 617, {rotate: -90});
addText("Distance from binding motif mid\u2212point (nt)", 366, 1033);

// ---- legend (lines drawn with Plot, labels as text) ----
const legendSvg = Plot.plot({
  width: 30, height: 90, margin: 0,
  x: {domain: [0, 1], range: [0, 19], axis: null},
  y: {domain: LEVELS, range: [5, 70], axis: null},
  marks: [Plot.ruleY(LEVELS, {y: d => d, x1: () => 0, x2: () => 1, stroke: (d, i) => COLORS[i], strokeWidth: 1.6})],
  style: {background: "transparent", overflow: "visible"}
});
legendSvg.style.position = "absolute";
legendSvg.style.left = "678px";
legendSvg.style.top = "247.3px";
legendSvg.style.maxWidth = "none";
root.appendChild(legendSvg);
LEVELS.forEach((lab, i) => addText(lab, 708, 252.3 + i * 21.7, {anchor: "start", color: COLORS[i]}));

if (problems.length) throw new Error("Length mismatch: " + problems.join("; "));
</script>
</body></html>
